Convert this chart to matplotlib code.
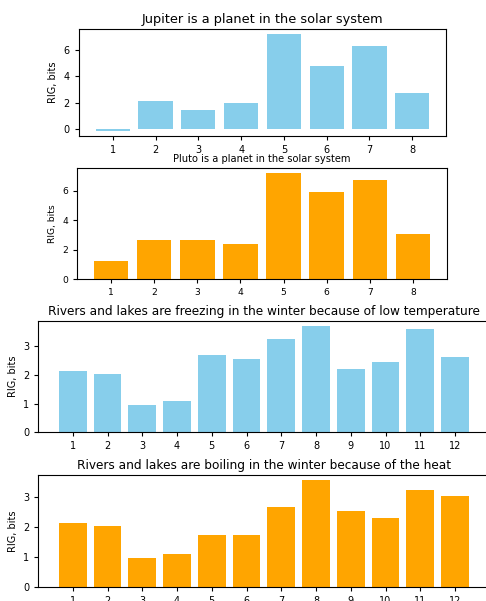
import numpy as np
import matplotlib.pyplot as plt

titles = ["Jupiter is a planet in the solar system",
          "Pluto is a planet in the solar system",
          "Rivers and lakes are freezing in the winter because of low temperature",
          "Rivers and lakes are boiling in the winter because of the heat"]

jupiter = [-0.13, 2.15, 1.44, 1.97, 7.18, 4.78, 6.30, 2.76]
pluto = [1.23, 2.69, 2.64, 2.37, 7.21, 5.89, 6.76, 3.09]
freezing = [2.14, 2.03, 0.95, 1.10, 2.70, 2.55, 3.25, 3.70, 2.19, 2.44, 3.58, 2.62]
boiling = [2.13, 2.05, 0.95, 1.11, 1.75, 1.75, 2.67, 3.57, 2.55, 2.31, 3.26, 3.06]

fig = plt.figure(figsize=(4.86, 6.01), dpi=100)

def draw(rect, values, color, title, title_fs, fs=7):
    ax = fig.add_axes(rect)
    x = np.arange(1, len(values) + 1)
    ax.bar(x, values, color=color)
    ax.set_xticks(x)
    ax.tick_params(labelsize=fs, length=3, width=0.8)
    ax.set_ylabel("RIG, bits", fontsize=fs)
    ax.set_title(title, fontsize=title_fs, pad=4)
    return ax

draw([0.1626, 0.7737, 0.7551, 0.1780], jupiter, "skyblue", titles[0], 9.3)
draw([0.1584, 0.5353, 0.7613, 0.1857], pluto, "orange", titles[1], 7.1, fs=6.6)
draw([0.0790, 0.2807, 0.928, 0.1857], freezing, "skyblue", titles[2], 8.7)
draw([0.0790, 0.0238, 0.928, 0.1858], boiling, "orange", titles[3], 8.7)

fig.savefig("out.png", dpi=100)
